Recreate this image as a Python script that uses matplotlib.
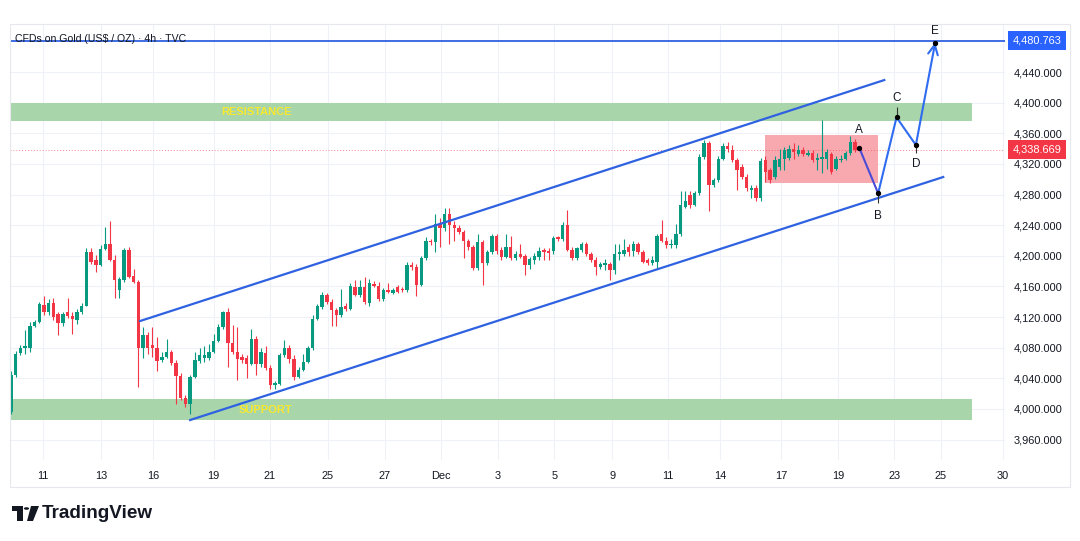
import matplotlib
matplotlib.use("Agg")
import matplotlib.pyplot as plt
import matplotlib.transforms as mtransforms
from matplotlib.patches import Rectangle, Circle, Polygon

plt.rcParams['font.family'] = ['Liberation Sans', 'DejaVu Sans']

# 4h candles, CFDs on Gold
opens = [3996, 4045, 4073, 4079, 4080, 4108, 4113, 4136, 4127, 4139,
         4124, 4112, 4126, 4122, 4116, 4126, 4135, 4205, 4195, 4188,
         4209, 4215, 4195, 4155, 4168, 4208, 4174, 4166, 4080, 4097,
         4083, 4080, 4064, 4068, 4075, 4060, 4043, 4015, 4007, 4042,
         4063, 4066, 4066, 4075, 4089, 4107, 4126, 4086, 4075, 4068,
         4066, 4059, 4091, 4059, 4073, 4054, 4031, 4033, 4070, 4080,
         4065, 4042, 4051, 4062, 4079, 4118, 4133, 4149, 4140, 4129,
         4123, 4134, 4130, 4159, 4149, 4159, 4138, 4163, 4161, 4143,
         4156, 4152, 4159, 4157, 4155, 4188, 4186, 4162, 4197, 4220,
         4218, 4241, 4236, 4255, 4240, 4236, 4231, 4219, 4211, 4184,
         4218, 4190, 4205, 4226, 4208, 4199, 4212, 4197, 4202, 4200,
         4188, 4195, 4199, 4208, 4206, 4206, 4224, 4222, 4240, 4208,
         4197, 4208, 4215, 4202, 4195, 4186, 4188, 4189, 4181, 4202,
         4203, 4212, 4206, 4215, 4205, 4194, 4191, 4192, 4228, 4220,
         4214, 4214, 4228, 4264, 4280, 4267, 4282, 4329, 4347, 4293,
         4299, 4327, 4344, 4338, 4325, 4316, 4303, 4286, 4288, 4275,
         4325, 4312, 4303, 4316, 4327, 4328, 4339, 4333, 4338, 4332,
         4334, 4325, 4327, 4327, 4333, 4314, 4325, 4327, 4334, 4349]
highs = [4050, 4076, 4083, 4103, 4113, 4116, 4140, 4147, 4143, 4145,
         4127, 4127, 4145, 4127, 4130, 4138, 4210, 4210, 4201, 4214,
         4238, 4245, 4201, 4173, 4210, 4212, 4183, 4168, 4107, 4100,
         4107, 4094, 4074, 4092, 4077, 4064, 4047, 4018, 4045, 4075,
         4080, 4082, 4085, 4098, 4111, 4128, 4132, 4110, 4107, 4072,
         4070, 4104, 4095, 4080, 4082, 4058, 4037, 4073, 4090, 4083,
         4070, 4055, 4072, 4082, 4123, 4137, 4153, 4151, 4144, 4132,
         4157, 4138, 4164, 4168, 4168, 4172, 4170, 4167, 4166, 4158,
         4164, 4158, 4162, 4159, 4192, 4192, 4189, 4200, 4224, 4222,
         4255, 4250, 4262, 4262, 4245, 4240, 4234, 4222, 4214, 4229,
         4221, 4208, 4229, 4229, 4212, 4229, 4226, 4206, 4215, 4203,
         4199, 4204, 4212, 4210, 4210, 4226, 4226, 4244, 4260, 4212,
         4212, 4218, 4218, 4205, 4198, 4192, 4196, 4192, 4215, 4215,
         4222, 4215, 4220, 4218, 4208, 4197, 4200, 4228, 4247, 4224,
         4222, 4242, 4284, 4284, 4284, 4284, 4333, 4351, 4350, 4302,
         4330, 4347, 4349, 4345, 4328, 4320, 4307, 4292, 4292, 4328,
         4330, 4315, 4330, 4340, 4342, 4345, 4347, 4345, 4342, 4338,
         4338, 4334, 4377, 4340, 4336, 4330, 4331, 4337, 4356, 4352]
lows = [3994, 4042, 4070, 4072, 4075, 4107, 4112, 4123, 4123, 4116,
        4097, 4108, 4119, 4098, 4111, 4124, 4134, 4189, 4179, 4187,
        4207, 4193, 4145, 4145, 4166, 4171, 4164, 4029, 4066, 4072,
        4068, 4049, 4062, 4066, 4058, 4007, 4012, 4003, 3994, 4040,
        4060, 4062, 4064, 4073, 4087, 4105, 4055, 4072, 4038, 4060,
        4040, 4057, 4044, 4055, 4051, 4026, 4026, 4031, 4068, 4060,
        4038, 4040, 4049, 4060, 4077, 4116, 4131, 4137, 4108, 4109,
        4120, 4128, 4129, 4147, 4146, 4137, 4135, 4159, 4141, 4141,
        4151, 4150, 4151, 4153, 4153, 4182, 4147, 4160, 4195, 4214,
        4205, 4212, 4233, 4215, 4220, 4228, 4197, 4208, 4181, 4182,
        4162, 4188, 4203, 4203, 4195, 4197, 4195, 4195, 4197, 4175,
        4183, 4189, 4195, 4195, 4195, 4203, 4220, 4220, 4206, 4195,
        4195, 4205, 4200, 4192, 4175, 4183, 4182, 4168, 4176, 4195,
        4200, 4200, 4200, 4202, 4190, 4188, 4188, 4184, 4218, 4210,
        4210, 4210, 4226, 4262, 4262, 4265, 4280, 4327, 4258, 4290,
        4297, 4325, 4335, 4322, 4286, 4300, 4285, 4276, 4271, 4272,
        4297, 4295, 4300, 4312, 4312, 4325, 4327, 4330, 4330, 4330,
        4323, 4312, 4308, 4314, 4307, 4312, 4322, 4325, 4332, 4336]
closes = [4045, 4072, 4079, 4082, 4108, 4114, 4137, 4127, 4139, 4120,
          4112, 4124, 4122, 4117, 4126, 4134, 4205, 4192, 4188, 4209,
          4215, 4195, 4168, 4170, 4208, 4173, 4166, 4080, 4097, 4080,
          4079, 4063, 4068, 4075, 4060, 4043, 4015, 4007, 4042, 4064,
          4070, 4071, 4075, 4089, 4107, 4126, 4086, 4075, 4065, 4064,
          4059, 4091, 4059, 4075, 4054, 4031, 4034, 4070, 4080, 4065,
          4042, 4051, 4062, 4079, 4118, 4134, 4149, 4140, 4129, 4123,
          4133, 4130, 4161, 4149, 4159, 4140, 4164, 4161, 4143, 4156,
          4153, 4155, 4153, 4155, 4188, 4186, 4162, 4197, 4220, 4218,
          4241, 4236, 4255, 4240, 4236, 4231, 4219, 4211, 4184, 4218,
          4190, 4205, 4226, 4206, 4199, 4212, 4197, 4202, 4199, 4188,
          4196, 4200, 4206, 4205, 4204, 4223, 4222, 4240, 4208, 4197,
          4210, 4215, 4202, 4195, 4186, 4189, 4190, 4181, 4202, 4205,
          4208, 4205, 4215, 4205, 4192, 4191, 4194, 4226, 4220, 4214,
          4216, 4228, 4266, 4271, 4266, 4282, 4329, 4347, 4293, 4299,
          4327, 4344, 4339, 4325, 4312, 4303, 4288, 4289, 4275, 4324,
          4310, 4299, 4325, 4327, 4338, 4339, 4336, 4338, 4333, 4334,
          4325, 4328, 4329, 4336, 4310, 4326, 4327, 4334, 4349, 4338]

# x axis: positions in bars and the date labels
tick_pos = [6.7, 19.2, 30.1, 43.0, 54.9, 67.2, 79.3, 91.2, 103.3, 115.2,
            127.5, 139.3, 150.4, 163.3, 175.4, 187.3, 197.2, 210.4]
tick_labels = ['11', '13', '16', '19', '21', '25', '27', 'Dec', '3', '5',
               '9', '11', '14', '17', '19', '23', '25', '30']
price_ticks = [3960, 4000, 4040, 4080, 4120, 4160, 4200, 4240, 4280,
               4320, 4360, 4400, 4440]

# drawings
resistance = (4376, 4400)
support = (3985, 4012.5)
zone_end = 203.8
range_box = (159.9, 183.9, 4295, 4358)
upper_channel = ([27.4, 185.2], [4114.9, 4429.5])
lower_channel = ([38.0, 197.7], [3985.6, 4302.9])
wave_names = ['A', 'B', 'C', 'D', 'E']
wave_x = [179.9, 183.9, 187.8, 191.9, 196.0]
wave_y = [4341, 4281.6, 4380.8, 4344.7, 4478.5]
target_price = 4480.763
last_price = 4338.669

W, H = 1080, 541
fig = plt.figure(figsize=(W / 100, H / 100), dpi=100)
fig.patch.set_facecolor('white')


def fx(px):
    return px / W


def fy(py):
    return 1 - py / H


ax = fig.add_axes([fx(10), fy(460), fx(1005) - fx(10), fy(24) - fy(460)])
ax.set_xlim(-0.2, 210.8)
ax.set_ylim(3933.4, 4502.7)
for s in ax.spines.values():
    s.set_visible(False)

ax.set_xticks(tick_pos)
ax.set_xticklabels(tick_labels)
ax.set_yticks(price_ticks)
ax.set_yticklabels(['{:,.3f}'.format(p) for p in price_ticks])
ax.yaxis.tick_right()
ax.tick_params(axis='both', length=0, labelsize=7.9, colors='#131722')
ax.tick_params(axis='x', pad=8)
ax.tick_params(axis='y', pad=6)
ax.grid(True, color='#eef1f7', linewidth=0.8)
ax.set_axisbelow(True)

green = '#089981'
red = '#f23645'

# zones
ax.add_patch(Rectangle((-0.2, resistance[0]), zone_end + 0.2, resistance[1] - resistance[0],
                       facecolor='#a9d5ab', edgecolor='none', zorder=1))
ax.add_patch(Rectangle((-0.2, support[0]), zone_end + 0.2, support[1] - support[0],
                       facecolor='#a9d5ab', edgecolor='none', zorder=1))
ax.text(52, sum(resistance) / 2, 'RESISTANCE', color='#f7e82e', fontsize=8,
        fontweight='bold', ha='center', va='center', zorder=2)
ax.text(54, sum(support) / 2, 'SUPPORT', color='#f7e82e', fontsize=8,
        fontweight='bold', ha='center', va='center', zorder=6)

ax.add_patch(Rectangle((range_box[0], range_box[2]), range_box[1] - range_box[0],
                       range_box[3] - range_box[2], facecolor='#f8a9b0',
                       edgecolor='none', zorder=1))

# candles
xs = list(range(len(opens)))
cols = [green if c >= o else red for o, c in zip(opens, closes)]
ax.vlines(xs, lows, highs, colors=cols, linewidth=0.8, zorder=3)
bottoms = [min(o, c) for o, c in zip(opens, closes)]
heights = [max(abs(c - o), 1.2) for o, c in zip(opens, closes)]
ax.bar(xs, heights, bottom=bottoms, width=0.72, color=cols, linewidth=0, zorder=4)

# last price line
ax.axhline(last_price, color='#f23645', linestyle=(0, (1, 2)), linewidth=0.7, alpha=0.6, zorder=2)

# channel
blue = '#2f62e0'
ax.plot(upper_channel[0], upper_channel[1], color=blue, linewidth=1.6, zorder=5)
ax.plot(lower_channel[0], lower_channel[1], color=blue, linewidth=1.6, zorder=5)
ax.axhline(target_price, color='#2f62e0', linewidth=1.3, zorder=5)

# projected path
ax.plot(wave_x[:2], wave_y[:2], color='#4b4bd6', linewidth=1.5, zorder=6)
ax.plot(wave_x[1:4], wave_y[1:4], color='#2f6cf0', linewidth=1.5, zorder=6)
ax.annotate('', xy=(wave_x[4], wave_y[4]), xytext=(wave_x[3], wave_y[3]),
            arrowprops=dict(arrowstyle='->,head_length=0.7,head_width=0.35',
                            color='#2f6cf0', linewidth=1.5, shrinkA=0, shrinkB=0),
            zorder=6)
ax.vlines([wave_x[2]], wave_y[2], wave_y[2] + 13, color='#333333', linewidth=0.8, zorder=6)
ax.vlines([wave_x[1]], wave_y[1] - 13, wave_y[1], color='#333333', linewidth=0.8, zorder=6)
ax.vlines([wave_x[3]], wave_y[3] - 11, wave_y[3], color='#333333', linewidth=0.8, zorder=6)
ax.scatter(wave_x, wave_y, s=8, color='black', zorder=7)
offsets = [(0, 13), (0, -16), (0, 14), (0, -14), (0, 8.5)]
for name, x, y, off in zip(wave_names, wave_x, wave_y, offsets):
    ax.annotate(name, (x, y), xytext=off, textcoords='offset points', ha='center',
                va='center', fontsize=8.5, color='#131722', zorder=8)

# price labels on the scale
blend = mtransforms.blended_transform_factory(ax.transAxes, ax.transData)
lab_x = (1013 - 10) / 995
ax.text(lab_x, target_price, '{:,.3f}'.format(target_price), transform=blend, fontsize=7.9,
        color='white', ha='left', va='center', clip_on=False,
        bbox=dict(boxstyle='square,pad=0.42', fc='#2962ff', ec='none'), zorder=9)
ax.text(lab_x, last_price, '{:,.3f}'.format(last_price), transform=blend, fontsize=7.9,
        color='white', ha='left', va='center', clip_on=False,
        bbox=dict(boxstyle='square,pad=0.42', fc='#f23645', ec='none'), zorder=9)

# header
fig.text(fx(15), fy(39), 'CFDs on Gold (US$ / OZ) \u00b7 4h \u00b7 TVC', fontsize=7.6,
         color='#131722', ha='left', va='center', zorder=10)

# frame
fig.add_artist(Rectangle((fx(10), fy(487)), fx(1070) - fx(10), fy(24) - fy(487),
                         transform=fig.transFigure, fill=False, edgecolor='#e6e8ee',
                         linewidth=0.8))

# TradingView logo
logo = '#131722'
fig.add_artist(Rectangle((fx(12), fy(511)), fx(11), 5 / H, transform=fig.transFigure,
                         color=logo, linewidth=0))
fig.add_artist(Rectangle((fx(17), fy(521)), fx(6), 15 / H, transform=fig.transFigure,
                         color=logo, linewidth=0))
fig.add_artist(Circle((fx(26.5), fy(508.5)), 2.6 / W, transform=fig.transFigure,
                      color=logo, linewidth=0))
fig.add_artist(Polygon([(fx(31), fy(506)), (fx(39), fy(506)), (fx(33), fy(521)), (fx(27), fy(521))],
                       closed=True, transform=fig.transFigure, color=logo, linewidth=0))
fig.text(fx(42), fy(514), 'TradingView', fontsize=13.6, fontweight='bold', color=logo,
         ha='left', va='center')

fig.savefig('out.png', dpi=100, facecolor='white')
